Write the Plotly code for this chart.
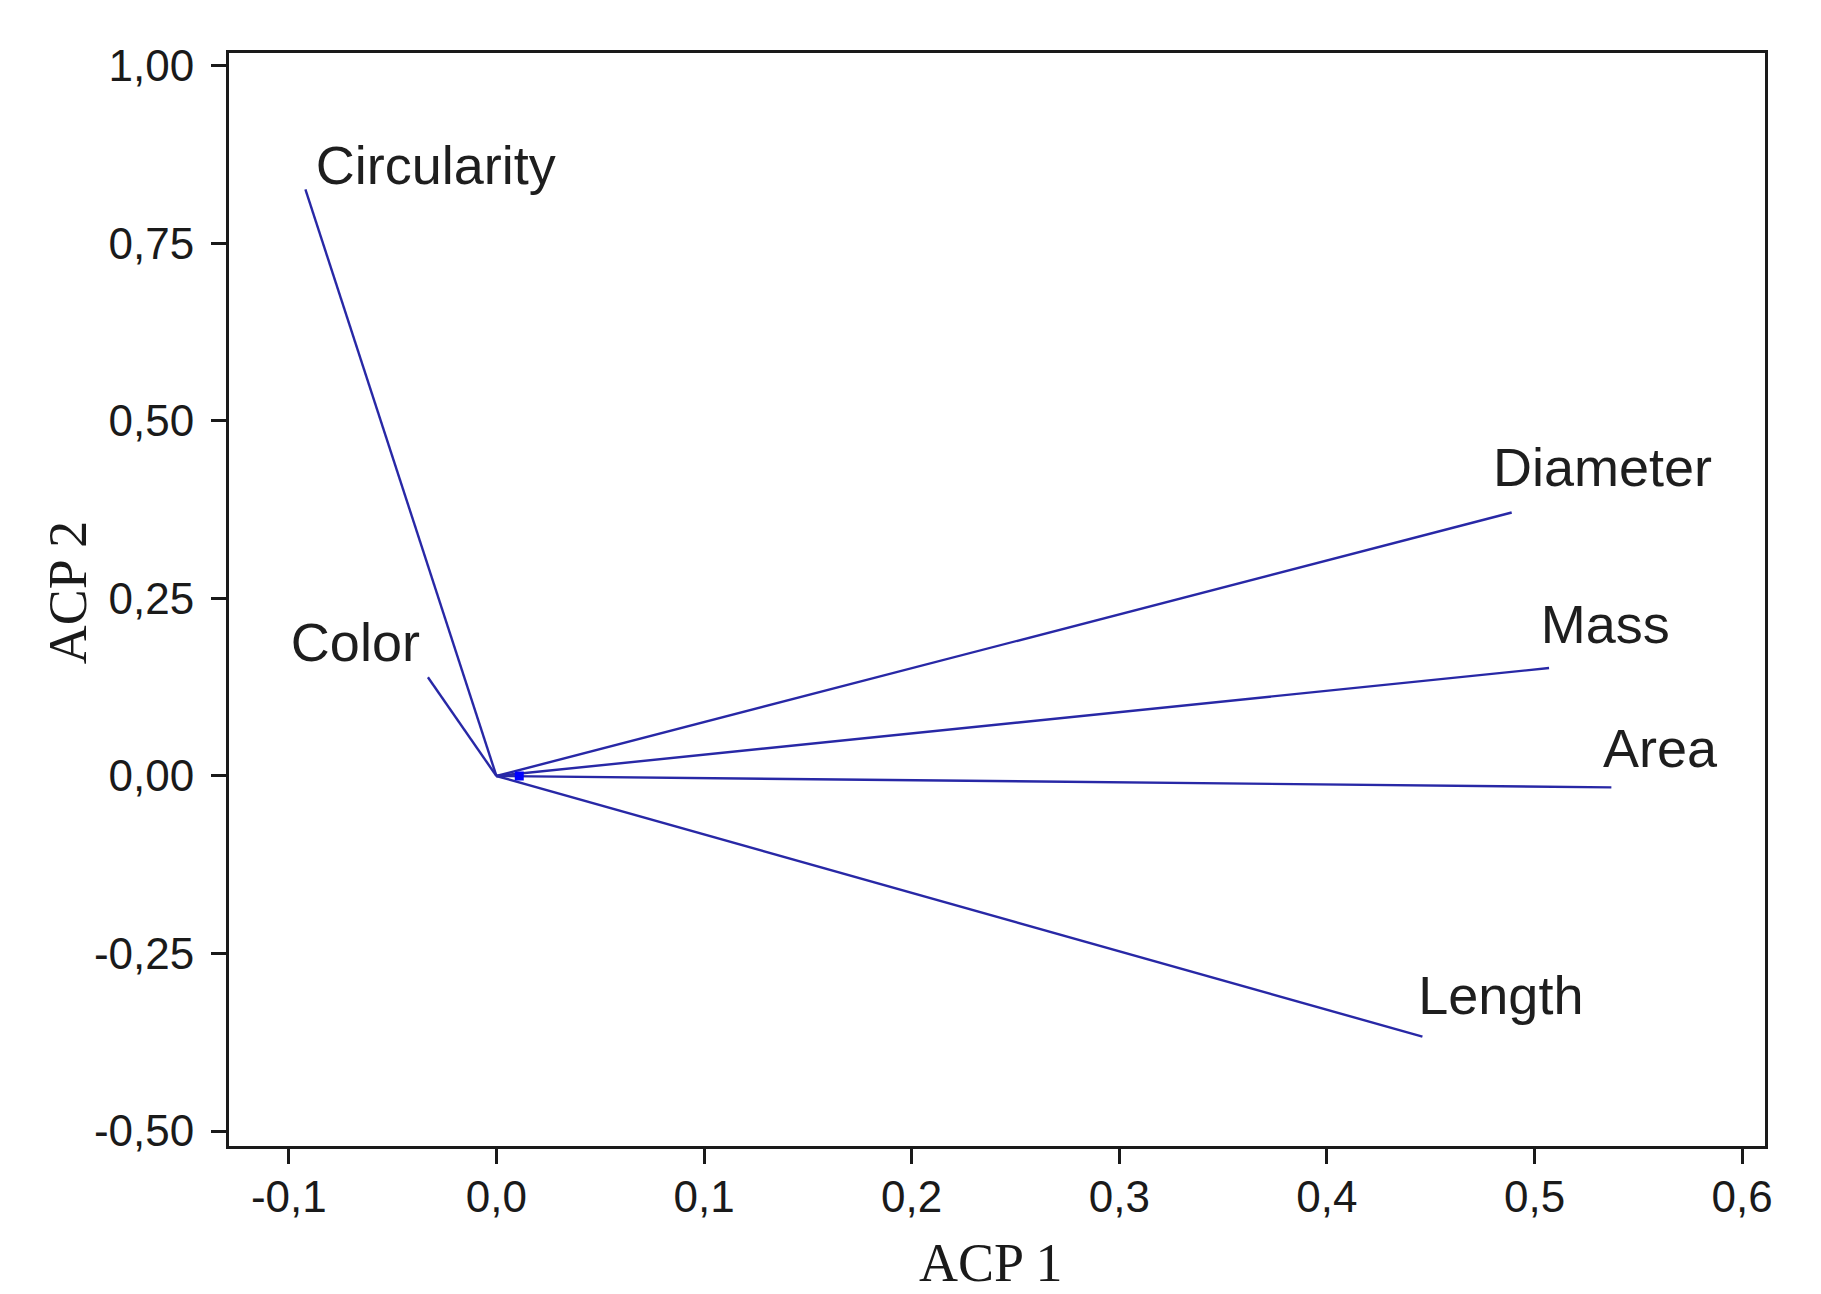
import plotly.graph_objects as go

# PCA loadings (ACP 1, ACP 2)
variables = ["Circularity", "Color", "Diameter", "Mass", "Area", "Length"]
acp1 = [-0.092, -0.033, 0.489, 0.507, 0.537, 0.446]
acp2 = [0.826, 0.139, 0.371, 0.152, -0.016, -0.367]

# label anchor positions (left edge of text, vertical centre)
label_x = [-0.087, -0.099, 0.480, 0.503, 0.533, 0.444]
label_y = [0.853, 0.181, 0.427, 0.206, 0.032, -0.316]

x_ticks = [-0.1, 0.0, 0.1, 0.2, 0.3, 0.4, 0.5, 0.6]
x_ticktext = ["-0,1", "0,0", "0,1", "0,2", "0,3", "0,4", "0,5", "0,6"]
y_ticks = [-0.5, -0.25, 0.0, 0.25, 0.5, 0.75, 1.0]
y_ticktext = ["-0,50", "-0,25", "0,00", "0,25", "0,50", "0,75", "1,00"]

line_color = "#2828a6"

lx, ly = [], []
for a, b in zip(acp1, acp2):
    lx += [0.0, a, None]
    ly += [0.0, b, None]

fig = go.Figure()
fig.add_trace(go.Scatter(x=lx, y=ly, mode="lines",
                         line=dict(color=line_color, width=2.4),
                         hoverinfo="skip", showlegend=False))
fig.add_trace(go.Scatter(x=[0.011], y=[0.0], mode="markers",
                         marker=dict(color="#0000ff", size=9, symbol="square"),
                         hoverinfo="skip", showlegend=False))
fig.add_trace(go.Scatter(x=label_x, y=label_y, mode="text", text=variables,
                         textposition="middle right",
                         textfont=dict(family="Liberation Sans, Arial", size=54, color="#1e1e1e"),
                         hoverinfo="skip", showlegend=False))

tickfont = dict(family="Liberation Sans, Arial", size=44, color="#1a1a1a")
titlefont = dict(family="Liberation Serif, Times New Roman", size=54, color="#1a1a1a")

fig.update_layout(
    width=1821, height=1294,
    paper_bgcolor="white", plot_bgcolor="white",
    margin=dict(l=221, r=64, t=45, b=156),
    showlegend=False,
    annotations=[
        dict(text="ACP 1", xref="paper", yref="paper", x=0.4958, y=-0.1075,
             xanchor="center", yanchor="middle", showarrow=False, font=titlefont),
        dict(text="ACP 2", xref="paper", yref="paper", x=-0.1046, y=0.507,
             xanchor="center", yanchor="middle", textangle=-90, showarrow=False, font=titlefont),
    ],
)
fig.update_xaxes(range=[-0.1288, 0.611], tickvals=x_ticks, ticktext=x_ticktext,
                 showgrid=False, zeroline=False,
                 showline=True, linecolor="#1a1a1a", linewidth=3, mirror=True,
                 ticks="outside", ticklen=15, tickwidth=3, tickcolor="#1a1a1a",
                 tickfont=tickfont, ticklabelstandoff=-5)
fig.update_yaxes(range=[-0.521, 1.018], tickvals=y_ticks, ticktext=y_ticktext,
                 showgrid=False, zeroline=False,
                 showline=True, linecolor="#1a1a1a", linewidth=3, mirror=True,
                 ticks="outside", ticklen=15, tickwidth=3, tickcolor="#1a1a1a",
                 tickfont=tickfont, ticklabelstandoff=8)

fig.write_html("out.html")
